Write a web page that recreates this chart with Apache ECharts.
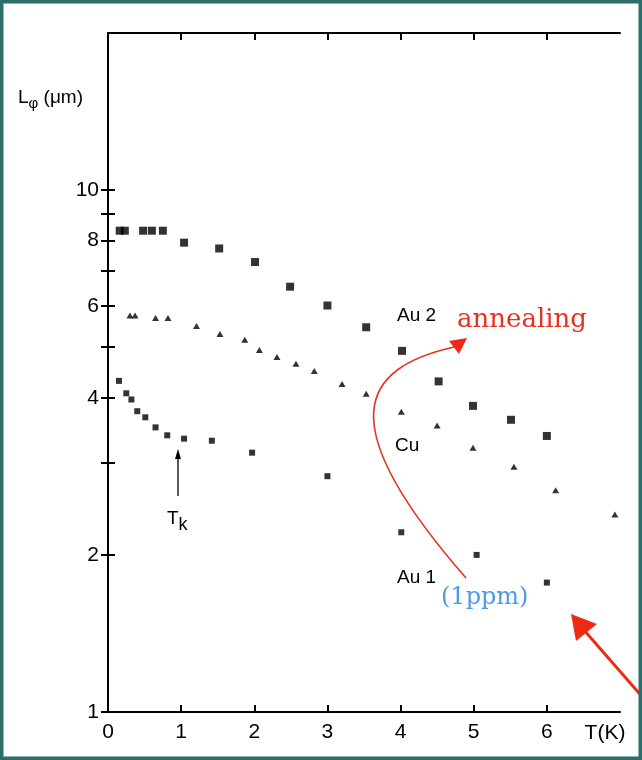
<!DOCTYPE html>
<html><head><meta charset="utf-8">
<script src="https://cdn.jsdelivr.net/npm/echarts@6/dist/echarts.min.js"></script>
<style>html,body{margin:0;padding:0;background:#fff}#c{width:642px;height:760px}</style>
</head><body><div id="c"></div>
<script>
// ---- data (T in K, L_phi in micrometres) ----
const au2T = [0.16, 0.23, 0.48, 0.60, 0.75, 1.04, 1.52, 2.01, 2.49, 3.00, 3.53, 4.02, 4.52, 4.99, 5.51, 6.00];
const au2L = [8.36, 8.36, 8.36, 8.36, 8.36, 7.93, 7.73, 7.28, 6.53, 6.01, 5.46, 4.92, 4.30, 3.86, 3.63, 3.38];
const cuT  = [0.30, 0.37, 0.65, 0.82, 1.21, 1.53, 1.87, 2.07, 2.31, 2.57, 2.82, 3.20, 3.53, 4.01, 4.50, 4.99, 5.55, 6.12, 6.93];
const cuL  = [5.75, 5.75, 5.69, 5.69, 5.49, 5.30, 5.17, 4.94, 4.79, 4.65, 4.50, 4.25, 4.07, 3.76, 3.54, 3.21, 2.95, 2.66, 2.39];
const au1T = [0.15, 0.25, 0.32, 0.40, 0.51, 0.65, 0.81, 1.04, 1.42, 1.97, 3.00, 4.01, 5.04, 6.00];
const au1L = [4.31, 4.08, 3.97, 3.77, 3.67, 3.51, 3.39, 3.34, 3.31, 3.14, 2.83, 2.21, 2.00, 1.77];
const xTickLabels = [0, 1, 2, 3, 4, 5, 6];
const xTicks = [1, 2, 3, 4, 5, 6];
const yTickLabels = [1, 2, 4, 6, 8, 10];
const yTicks = [1, 2, 3, 4, 5, 6, 7, 8, 9, 10];

const zip = (a, b) => a.map((v, i) => [v, b[i]]);
const INK = '#000';
const FONT = '"Liberation Sans", Arial, sans-serif';
const SERIF = '"DejaVu Serif", "Liberation Serif", serif';
const axisLine = { show: true, lineStyle: { color: INK, width: 2 } };
const tickStyle = { color: INK, width: 2 };

const chart = echarts.init(document.getElementById('c'), null, { renderer: 'canvas' });
chart.setOption({
  animation: false,
  backgroundColor: '#fff',
  grid: { left: 108, right: 22, top: 33, bottom: 48 },
  xAxis: [
    { type: 'value', min: 0, max: 7, interval: 1, position: 'bottom',
      axisLine, splitLine: { show: false },
      axisTick: { inside: true, length: 7, lineStyle: tickStyle, customValues: xTicks },
      axisLabel: { customValues: xTickLabels, color: INK, fontSize: 21, fontFamily: FONT, margin: 10 } },
    { type: 'value', min: 0, max: 7, interval: 1, position: 'top',
      axisLine, splitLine: { show: false },
      axisTick: { inside: true, length: 7, lineStyle: tickStyle, customValues: xTicks },
      axisLabel: { show: false } }
  ],
  yAxis: [
    { type: 'log', logBase: 10, min: 1, max: 20, position: 'left',
      axisLine, splitLine: { show: false }, minorTick: { show: false },
      axisTick: { inside: true, length: 7, lineStyle: tickStyle, customValues: yTicks },
      axisLabel: { customValues: yTickLabels, color: INK, fontSize: 21, fontFamily: FONT, margin: 9 } },
    { type: 'log', logBase: 10, min: 1, max: 20, position: 'right',
      axisLine, splitLine: { show: false }, minorTick: { show: false },
      axisTick: { inside: true, length: 7, lineStyle: tickStyle, customValues: yTicks },
      axisLabel: { show: false } }
  ],
  series: [
    { name: 'Au 2', type: 'scatter', data: zip(au2T, au2L), symbol: 'rect', symbolSize: 8,
      itemStyle: { color: INK } },
    { name: 'Cu', type: 'scatter', data: zip(cuT, cuL), symbol: 'triangle', symbolSize: [7, 6],
      itemStyle: { color: INK } },
    { name: 'Au 1', type: 'scatter', data: zip(au1T, au1L), symbol: 'rect', symbolSize: 6,
      itemStyle: { color: INK } }
  ],
  graphic: [
    { type: 'rect', shape: { x: 1.5, y: 1.5, width: 639, height: 757 },
      style: { fill: 'none', stroke: '#2b6e6c', lineWidth: 4 }, z: 100 },
    { type: 'text', left: 18, top: 88,
      style: { text: '{a|L}{b|φ}{a| (μm)}', rich: {
        a: { fontSize: 19, fontFamily: FONT, fill: INK },
        b: { fontSize: 15, fontFamily: FONT, fill: INK, padding: [12, 0, 0, 0] } } } },
    { type: 'text', x: 605, y: 733, style: { text: 'T(K)', fontSize: 21, fontFamily: FONT, fill: INK, align: 'center', verticalAlign: 'middle' } },
    { type: 'text', x: 397, y: 316, style: { text: 'Au 2', fontSize: 19, fontFamily: FONT, fill: INK, verticalAlign: 'middle' } },
    { type: 'text', x: 395, y: 446, style: { text: 'Cu', fontSize: 19, fontFamily: FONT, fill: INK, verticalAlign: 'middle' } },
    { type: 'text', x: 397, y: 578, style: { text: 'Au 1', fontSize: 19, fontFamily: FONT, fill: INK, verticalAlign: 'middle' } },
    { type: 'text', x: 167, y: 504,
      style: { text: '{t|T}{k|k}', rich: {
        t: { fontSize: 19, fontFamily: FONT, fill: INK },
        k: { fontSize: 18, fontFamily: FONT, fill: INK, padding: [12, 0, 0, 0] } } } },
    { type: 'line', shape: { x1: 178, y1: 496, x2: 178, y2: 456 }, style: { stroke: INK, lineWidth: 1.3 } },
    { type: 'polygon', shape: { points: [[178, 449], [175, 459], [181, 459]] }, style: { fill: INK } },
    { type: 'text', x: 457, y: 320, style: { text: 'annealing', fontSize: 26, fontFamily: SERIF, fill: '#e8321e', verticalAlign: 'middle' } },
    { type: 'text', x: 441, y: 598, style: { text: '(1ppm)', fontSize: 24, fontFamily: SERIF, fill: '#4d9be8', verticalAlign: 'middle' } },
    { type: 'bezierCurve', shape: { x1: 466, y1: 578, cpx1: 328, cpy1: 420, cpx2: 362, cpy2: 368, x2: 454, y2: 347 },
      style: { stroke: '#e8321e', lineWidth: 1.6, fill: 'none' } },
    { type: 'polygon', shape: { points: [[467, 338], [449, 341], [459, 354]] }, style: { fill: '#ee2a12' } },
    { type: 'line', shape: { x1: 645, y1: 700, x2: 583, y2: 629 }, style: { stroke: '#ee2a12', lineWidth: 3 } },
    { type: 'polygon', shape: { points: [[571, 614], [597, 624], [576, 641]] }, style: { fill: '#ee2a12' } }
  ]
});
</script></body></html>
